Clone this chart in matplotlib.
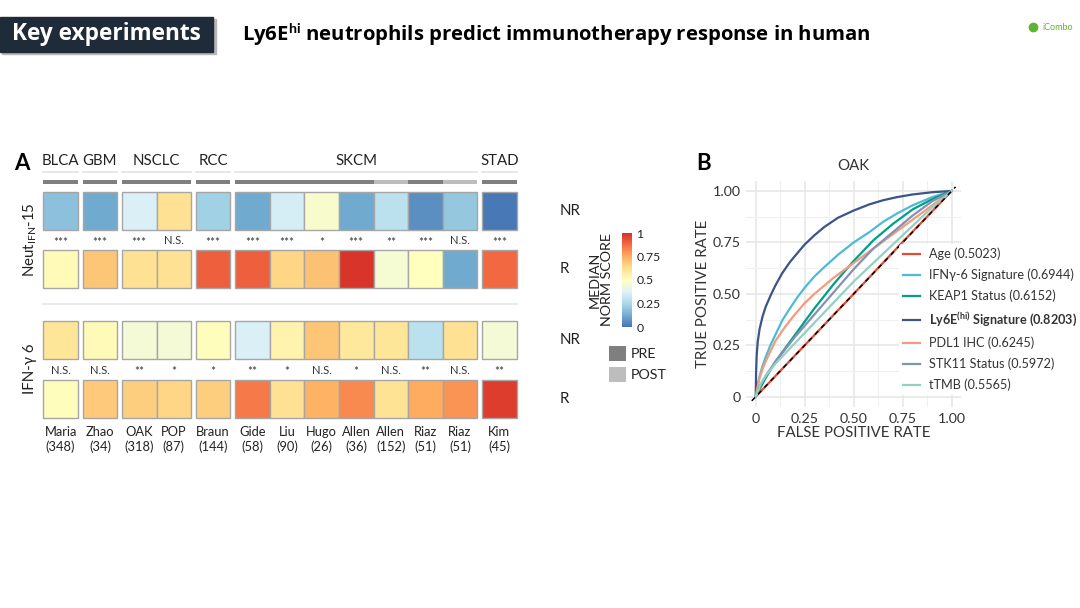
import numpy as np
import matplotlib.pyplot as plt
from matplotlib.patches import Rectangle
from matplotlib.colors import Normalize, LinearSegmentedColormap
from matplotlib.colorbar import ColorbarBase

plt.rcParams['font.family'] = ['Lato', 'DejaVu Sans']
plt.rcParams['mathtext.fontset'] = 'custom'
plt.rcParams['mathtext.rm'] = 'Lato'
plt.rcParams['mathtext.bf'] = 'Lato:bold'

W, H = 1080, 608

# ---------------- panel A data ----------------
studies = ['Maria', 'Zhao', 'OAK', 'POP', 'Braun', 'Gide', 'Liu', 'Hugo',
           'Allen', 'Allen', 'Riaz', 'Riaz', 'Kim']
n_patients = [348, 34, 318, 87, 144, 58, 90, 26, 36, 152, 51, 51, 45]
cancers = ['BLCA', 'GBM', 'NSCLC', 'RCC', 'SKCM', 'STAD']
cancer_size = [1, 1, 2, 1, 7, 1]
timepoint = ['PRE', 'PRE', 'PRE', 'PRE', 'PRE', 'PRE', 'PRE', 'PRE',
             'PRE', 'POST', 'PRE', 'POST', 'PRE']

neut_nr = [0.18, 0.12, 0.36, 0.62, 0.23, 0.12, 0.35, 0.47, 0.12, 0.29, 0.06, 0.20, 0.01]
neut_r = [0.52, 0.69, 0.62, 0.62, 0.90, 0.90, 0.65, 0.70, 0.99, 0.46, 0.50, 0.12, 0.88]
neut_sig = ['***', '***', '***', 'N.S.', '***', '***', '***', '*', '***', '**', '***', 'N.S.', '***']

ifn_nr = [0.60, 0.52, 0.45, 0.45, 0.51, 0.36, 0.55, 0.69, 0.59, 0.60, 0.29, 0.62, 0.45]
ifn_r = [0.51, 0.68, 0.67, 0.65, 0.67, 0.85, 0.62, 0.74, 0.82, 0.61, 0.75, 0.80, 0.97]
ifn_sig = ['N.S.', 'N.S.', '**', '*', '*', '**', '*', 'N.S.', '*', 'N.S.', '**', 'N.S.', '**']

# ---------------- panel B data (ROC, OAK) ----------------
roc_labels = ['Age (0.5023)', 'IFNγ-6 Signature (0.6944)', 'KEAP1 Status (0.6152)',
              r'Ly6E$^{\mathbf{(hi)}}$ Signature (0.8203)', 'PDL1 IHC (0.6245)',
              'STK11 Status (0.5972)', 'tTMB (0.5565)']
roc_colors = ['#E64B35', '#4DBBD5', '#00A087', '#3C5488', '#F39B7F', '#8491B4', '#91D1C2']

age_fpr = [0, 0.25, 0.5, 0.75, 1]
age_tpr = [0, 0.25, 0.5, 0.752, 1]
ifn_fpr = [0, 0.01, 0.02, 0.035, 0.05, 0.075, 0.1, 0.135, 0.175, 0.21, 0.25, 0.3, 0.35,
           0.42, 0.5, 0.58, 0.65, 0.72, 0.8, 0.9, 1]
ifn_tpr = [0, 0.06, 0.10, 0.15, 0.19, 0.25, 0.30, 0.37, 0.43, 0.48, 0.53, 0.585, 0.63,
           0.69, 0.75, 0.80, 0.85, 0.89, 0.93, 0.97, 1]
keap_fpr = [0, 0.05, 0.1, 0.15, 0.2, 0.25, 0.3, 0.35, 0.4, 0.45, 0.5, 0.55, 0.6, 0.65,
            0.7, 0.75, 0.8, 0.85, 0.9, 0.95, 1]
keap_tpr = [0, 0.09, 0.17, 0.235, 0.30, 0.365, 0.43, 0.49, 0.55, 0.605, 0.66, 0.71, 0.76,
            0.80, 0.84, 0.875, 0.91, 0.935, 0.96, 0.98, 1]
ly6e_fpr = [0, 0.002, 0.005, 0.01, 0.02, 0.035, 0.05, 0.075, 0.1, 0.135, 0.175, 0.21,
            0.25, 0.3, 0.35, 0.42, 0.5, 0.58, 0.65, 0.72, 0.8, 0.9, 1]
ly6e_tpr = [0, 0.12, 0.20, 0.265, 0.33, 0.39, 0.435, 0.49, 0.54, 0.60, 0.655, 0.695,
            0.74, 0.785, 0.825, 0.87, 0.905, 0.935, 0.955, 0.97, 0.983, 0.994, 1]
pdl1_fpr = [0, 0.01, 0.02, 0.035, 0.05, 0.075, 0.1, 0.15, 0.2, 0.25, 0.3, 0.35, 0.4,
            0.45, 0.5, 0.6, 0.7, 0.8, 0.9, 1]
pdl1_tpr = [0, 0.05, 0.09, 0.135, 0.17, 0.22, 0.27, 0.34, 0.40, 0.455, 0.50, 0.54, 0.58,
            0.615, 0.65, 0.72, 0.79, 0.86, 0.93, 1]
stk_fpr = [0, 0.025, 0.05, 0.1, 0.15, 0.2, 0.25, 0.3, 0.35, 0.4, 0.45, 0.5, 0.55, 0.6,
           0.65, 0.7, 0.8, 0.9, 1]
stk_tpr = [0, 0.06, 0.10, 0.17, 0.23, 0.29, 0.345, 0.40, 0.455, 0.51, 0.565, 0.62, 0.67,
           0.72, 0.76, 0.80, 0.88, 0.95, 1]
tmb_fpr = [0, 0.025, 0.05, 0.1, 0.15, 0.2, 0.3, 0.4, 0.5, 0.6, 0.7, 0.8, 0.9, 1]
tmb_tpr = [0, 0.06, 0.10, 0.16, 0.21, 0.26, 0.36, 0.46, 0.56, 0.65, 0.74, 0.83, 0.92, 1]

roc_fpr = [age_fpr, ifn_fpr, keap_fpr, ly6e_fpr, pdl1_fpr, stk_fpr, tmb_fpr]
roc_tpr = [age_tpr, ifn_tpr, keap_tpr, ly6e_tpr, pdl1_tpr, stk_tpr, tmb_tpr]

fig = plt.figure(figsize=(W / 100, H / 100), dpi=100)
ax0 = fig.add_axes([0, 0, 1, 1])
ax0.set_xlim(0, W)
ax0.set_ylim(H, 0)
ax0.axis('off')

# ---------------- header ----------------
ax0.add_patch(Rectangle((2, 19), 214, 35, color='#b8b8b8', zorder=1))
ax0.add_patch(Rectangle((0, 16.5), 213, 35.5, color='#1f2b38', zorder=2))
ax0.text(106, 34.5, 'Key experiments', color='white', fontsize=16.3, fontweight='bold',
         family=['Open Sans', 'DejaVu Sans'], ha='center', va='center', zorder=3)
ax0.text(242, 34.5, r'Ly6E$^{\mathbf{hi}}$ neutrophils predict immunotherapy response in human',
         fontsize=14.6, fontweight='bold', family=['Open Sans', 'DejaVu Sans'],
         ha='left', va='center')
ax0.text(1058, 27, 'iCombo', color='#5cb531', fontsize=6.5, ha='center', va='center')
ax0.plot([1033], [27], marker='o', ms=6, color='#5cb531')

# ---------------- panel A ----------------
cmap = LinearSegmentedColormap.from_list(
    'rdylbu9', ['#4575b4', '#74add1', '#abd9e9', '#e0f3f8', '#ffffbf',
                '#fee090', '#fdae61', '#f46d43', '#d73027'])
norm = Normalize(0, 1)
cell_w, cell_h, gap, x_start = 34.6, 38, 4.7, 43.3
grp = np.repeat(np.arange(len(cancers)), cancer_size)
x_left = x_start + np.arange(len(studies)) * cell_w + grp * gap
edge = '#a6a6a6'

rows = [(neut_nr, 191.5), (neut_r, 250), (ifn_nr, 320.5), (ifn_r, 380)]
for vals, y0 in rows:
    for j, v in enumerate(vals):
        ax0.add_patch(Rectangle((x_left[j], y0), cell_w, cell_h, facecolor=cmap(norm(v)),
                                edgecolor=edge, lw=1))

for sig, ys in [(neut_sig, 240.5), (ifn_sig, 370)]:
    for j, s in enumerate(sig):
        star = '*' in s
        ax0.text(x_left[j] + cell_w / 2, ys + (2 if star else 0), s, ha='center', va='center',
                 fontsize=8.5 if star else 8, color='#333333')

for j in range(len(studies)):
    ax0.text(x_left[j] + cell_w / 2, 432, studies[j], ha='center', va='center',
             fontsize=9.3, color='#222222')
    ax0.text(x_left[j] + cell_w / 2, 446.5, '(%d)' % n_patients[j], ha='center', va='center',
             fontsize=9.3, color='#222222')
    col = '#7f7f7f' if timepoint[j] == 'PRE' else '#bdbdbd'
    ax0.add_patch(Rectangle((x_left[j], 179.5), cell_w, 4.5, color=col, lw=0))

start = 0
for name, n in zip(cancers, cancer_size):
    xa, xb = x_left[start], x_left[start + n - 1] + cell_w
    ax0.text((xa + xb) / 2, 161, name, ha='center', va='center', fontsize=10.8, color='#222222')
    ax0.plot([xa, xb], [172, 172], color='#e3e3e3', lw=1.2)
    start += n

ax0.plot([x_left[0], x_left[-1] + cell_w], [304, 304], color='#e6e6e6', lw=1.2)

ax0.text(22, 163, 'A', fontsize=16, fontweight='bold', ha='center', va='center')
ax0.text(30, 240, r'Neut$_{\mathrm{IFN}}$-15', rotation=90, fontsize=10.8, ha='center',
         va='center', color='#222222')
ax0.text(30, 369, 'IFN-γ 6', rotation=90, fontsize=10.8, ha='center', va='center',
         color='#222222')
for lab, y in [('NR', 211), ('R', 269), ('NR', 340), ('R', 399)]:
    ax0.text(560, y, lab, fontsize=10.8, ha='left', va='center', color='#222222')

cax = fig.add_axes([622 / W, 1 - 327 / H, 10 / W, 94 / H])
cb = ColorbarBase(cax, cmap=cmap, norm=norm, ticks=[0, 0.25, 0.5, 0.75, 1])
cb.ax.set_yticklabels(['0', '0.25', '0.5', '0.75', '1'])
cb.outline.set_visible(False)
cax.tick_params(length=0, labelsize=8.8, pad=3, colors='#222222')
ax0.text(601, 280, 'MEDIAN\nNORM SCORE', rotation=90, ha='center', va='center',
         fontsize=10.3, linespacing=1.0, color='#222222')

for lab, y0, col in [('PRE', 345.5, '#7f7f7f'), ('POST', 367, '#bdbdbd')]:
    ax0.add_patch(Rectangle((609, y0), 17, 15, color=col, lw=0))
    ax0.text(631, y0 + 8, lab, fontsize=10.3, ha='left', va='center', color='#222222')

# ---------------- panel B ----------------
axb = fig.add_axes([745.9 / W, 1 - 407 / H, 215.6 / W, 226.3 / H])
axb.set_xlim(-0.05, 1.05)
axb.set_ylim(-0.05, 1.05)
for s in axb.spines.values():
    s.set_visible(False)
ticks = [0, 0.25, 0.5, 0.75, 1]
tick_lab = ['0', '0.25', '0.50', '0.75', '1.00']
axb.set_xticks(ticks)
axb.set_xticklabels(tick_lab)
axb.set_yticks(ticks)
axb.set_yticklabels(tick_lab)
axb.set_xticks([0.125, 0.375, 0.625, 0.875], minor=True)
axb.set_yticks([0.125, 0.375, 0.625, 0.875], minor=True)
axb.grid(True, which='major', color='#e6e6e6', lw=1.1)
axb.grid(True, which='minor', color='#f0f0f0', lw=0.8)
axb.tick_params(which='both', length=0, labelsize=10.3, colors='#333333', pad=4)
axb.set_axisbelow(True)

for fpr, tpr, lab, col in zip(roc_fpr, roc_tpr, roc_labels, roc_colors):
    axb.plot(fpr, tpr, color=col, lw=1.6, label=lab, solid_joinstyle='round')
axb.plot([-0.02, 1.02], [-0.02, 1.02], color='black', lw=1.1, ls=(0, (3, 3)))

axb.set_xlabel('FALSE POSITIVE RATE', fontsize=10.8, color='#333333', labelpad=1)
axb.set_ylabel('TRUE POSITIVE RATE', fontsize=10.8, color='#333333', labelpad=2)
axb.set_title('OAK', fontsize=10.8, color='#333333', pad=8)

leg = axb.legend(loc='upper left', bbox_to_anchor=(899 / W, 1 - 244 / H),
                 bbox_transform=fig.transFigure, frameon=True, facecolor='white',
                 edgecolor='none', framealpha=1, fontsize=9.1, handlelength=1.4,
                 handletextpad=0.7, labelspacing=0.66, borderpad=0.3, borderaxespad=0)
leg.get_texts()[3].set_fontweight('bold')
for t in leg.get_texts():
    t.set_color('#333333')

ax0.text(704, 163, 'B', fontsize=16, fontweight='bold', ha='center', va='center')

fig.savefig('out.png', dpi=100)
